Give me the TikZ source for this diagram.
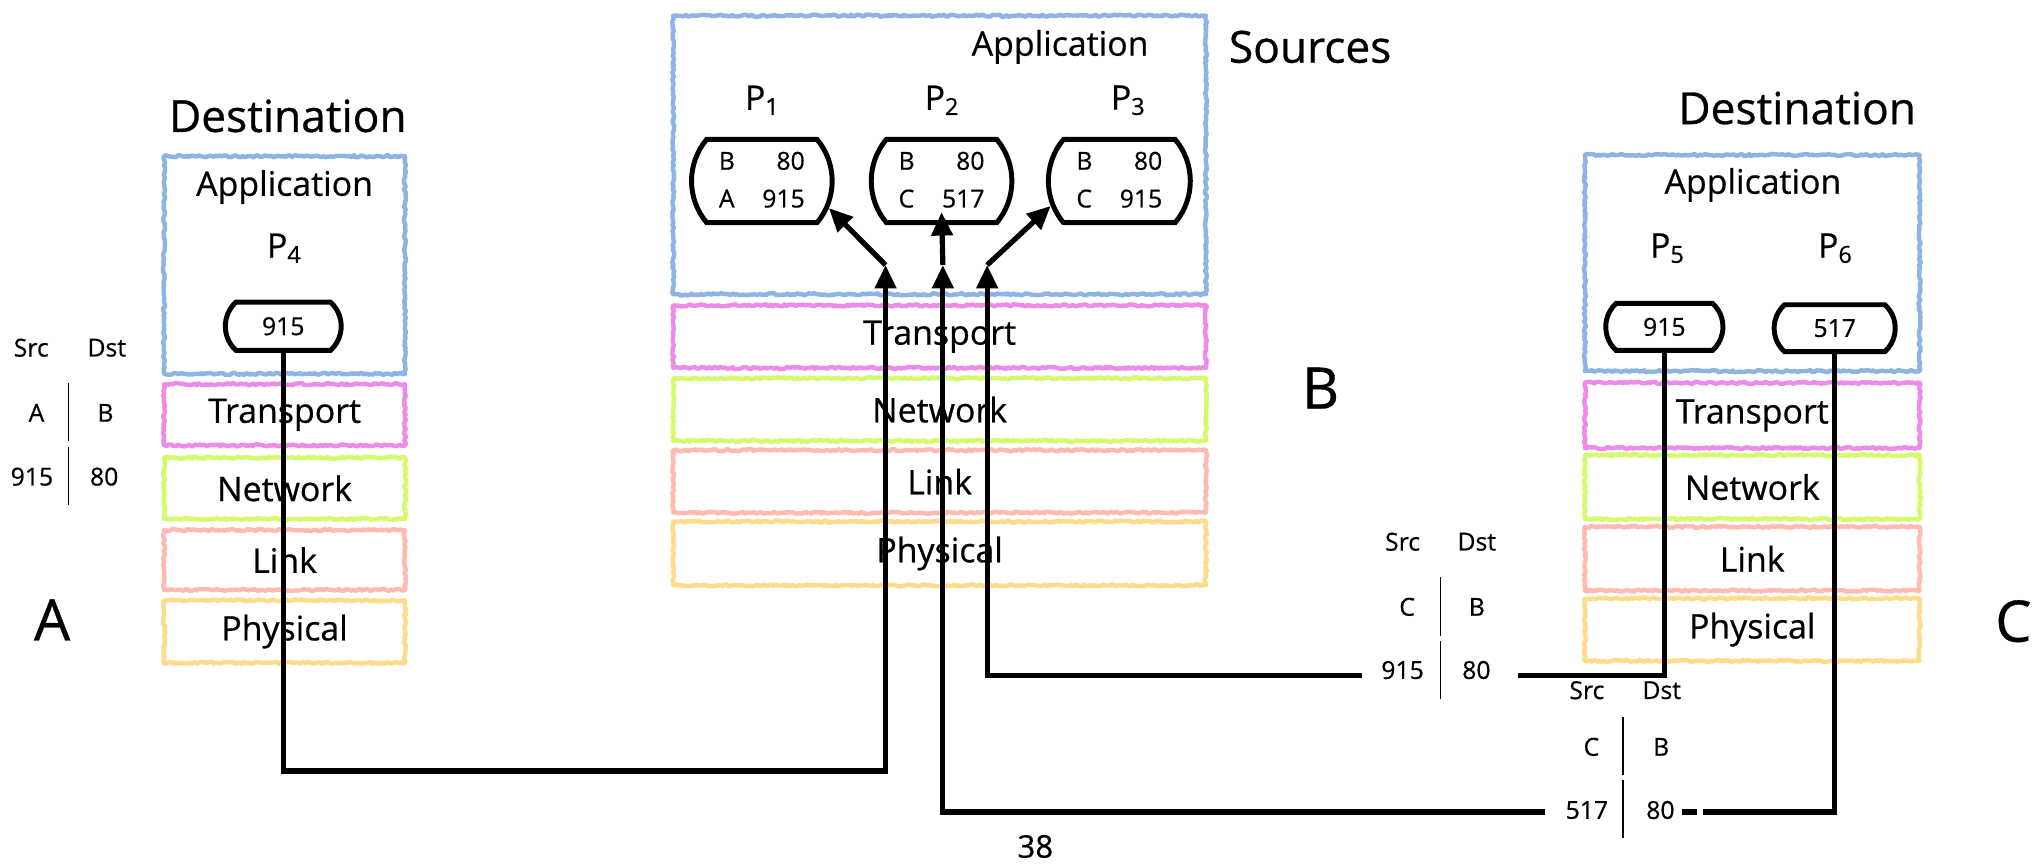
\documentclass[tikz,border=0pt]{standalone}
\usepackage{fontspec}
\setmainfont{Open Sans}[FakeBold=0.6]
\usetikzlibrary{arrows.meta,shapes.misc,decorations.pathmorphing}

\definecolor{appblue}{RGB}{141,180,226}
\definecolor{transpink}{RGB}{236,140,230}
\definecolor{netlime}{RGB}{214,250,110}
\definecolor{linksalmon}{RGB}{255,186,178}
\definecolor{physyellow}{RGB}{255,220,140}

\newcommand{\setfs}[1]{\fontsize{#1}{#1}\selectfont}
\newcommand{\psub}[1]{\raisebox{-4pt}{\setfs{18}#1}}
\newcommand{\portpair}[4]{\fontsize{19}{29}\selectfont\begin{tabular}{@{}l@{\hspace{21pt}}r@{}}#1&#2\\#3&#4\end{tabular}}

\begin{document}
\begin{tikzpicture}[x=1pt,y=-1pt,
  chalk/.style={draw=#1, line width=3.4pt, line join=round, decorate,
    decoration={random steps, segment length=1.8pt, amplitude=0.8pt}},
  layerbox/.style={chalk=#1, rectangle, inner sep=0pt, font=\setfs{26}},
  apptext/.style={inner sep=0pt, font=\setfs{26}},
  plabel/.style={inner sep=0pt, font=\setfs{26}},
  title/.style={inner sep=0pt, font=\setfs{34}},
  hostletter/.style={inner sep=0pt, font=\setfs{44}},
  pill/.style={draw, line width=3.8pt, rounded rectangle,
    rounded rectangle arc length=80, inner sep=0pt},
  smallpill/.style={pill, rounded rectangle arc length=95, font=\setfs{19}},
  tbl/.style={inner sep=0pt, font=\setfs{19}},
  divider/.style={line width=1.3pt},
  wire/.style={line width=4pt},
  tip/.style={-{Triangle[length=18pt,width=16pt]}}
]
\useasboundingbox (0,0) rectangle (1568,664);

% ---------- host A ----------
\node[title] (aTitle) at (221,89) {Destination};
\node[layerbox=appblue, minimum width=185pt, minimum height=167pt] (aApp) at (218.5,203.5) {};
\node[apptext] (aAppL) at (218.5,143.6) {Application};
\node[plabel] (aP4) at (218,190.6) {P\psub{4}};
\node[smallpill, minimum width=89pt, minimum height=37pt] (p4) at (217.5,250.5) {915};
\node[layerbox=transpink, minimum width=185pt, minimum height=47pt] (aTra) at (218.5,318.5) {Transport};
\node[layerbox=netlime, minimum width=185pt, minimum height=47pt] (aNet) at (218.5,375) {Network};
\node[layerbox=linksalmon, minimum width=185pt, minimum height=46pt] (aLnk) at (218.5,430) {Link};
\node[layerbox=physyellow, minimum width=185pt, minimum height=48pt] (aPhy) at (218.5,485) {Physical};
\node[hostletter] (hostA) at (40,476) {A};

% header table next to A
\node[tbl] (aSrc) at (24,267) {Src};
\node[tbl] (aDst) at (82,267) {Dst};
\node[tbl] (aSrcH) at (28,317) {A};
\node[tbl] (aDstH) at (81,317) {B};
\node[tbl] (aSrcP) at (24.5,366) {915};
\node[tbl] (aDstP) at (80,366) {80};
\draw[divider] (52.5,294) -- (52.5,339);
\draw[divider] (52.5,343) -- (52.5,388);

% ---------- host B ----------
\node[title] (bTitle) at (1006,36) {Sources};
\node[layerbox=appblue, minimum width=409pt, minimum height=214pt] (bApp) at (721.5,119) {};
\node[apptext] (bAppL) at (814,36) {Application};
\node[plabel] (bP1) at (585,77) {P\psub{1}};
\node[plabel] (bP2) at (723,77) {P\psub{2}};
\node[plabel] (bP3) at (866,77) {P\psub{3}};
\node[pill, minimum width=108pt, minimum height=64pt] (p1) at (585,139) {\portpair{B}{80}{A}{915}};
\node[pill, minimum width=108pt, minimum height=64pt] (p2) at (723,139) {\portpair{B}{80}{C}{517}};
\node[pill, minimum width=109pt, minimum height=64pt] (p3) at (859.5,139) {\portpair{B}{80}{C}{915}};
\node[layerbox=transpink, minimum width=409pt, minimum height=48pt] (bTra) at (721.5,258.5) {Transport};
\node[layerbox=netlime, minimum width=409pt, minimum height=48pt] (bNet) at (721.5,314.5) {Network};
\node[layerbox=linksalmon, minimum width=409pt, minimum height=48pt] (bLnk) at (721.5,369.7) {Link};
\node[layerbox=physyellow, minimum width=409pt, minimum height=49pt] (bPhy) at (721.5,425) {Physical};
\node[hostletter] (hostB) at (1014,298) {B};

% ---------- host C ----------
\node[title] (cTitle) at (1380,83) {Destination};
\node[layerbox=appblue, minimum width=257pt, minimum height=166pt] (cApp) at (1345.5,202) {};
\node[apptext] (cAppL) at (1346,142) {Application};
\node[plabel] (cP5) at (1280,190.6) {P\psub{5}};
\node[plabel] (cP6) at (1409,190.6) {P\psub{6}};
\node[smallpill, minimum width=90pt, minimum height=36pt] (p5) at (1278,251) {915};
\node[smallpill, minimum width=93pt, minimum height=36pt] (p6) at (1408.8,252) {517};
\node[layerbox=transpink, minimum width=257pt, minimum height=50pt] (cTra) at (1345.5,319) {Transport};
\node[layerbox=netlime, minimum width=257pt, minimum height=49pt] (cNet) at (1345.5,374) {Network};
\node[layerbox=linksalmon, minimum width=257pt, minimum height=49pt] (cLnk) at (1345.5,429) {Link};
\node[layerbox=physyellow, minimum width=257pt, minimum height=48pt] (cPhy) at (1345.5,483.5) {Physical};
\node[hostletter] (hostC) at (1546,477) {C};

% header table on the P5 path
\node[tbl] (c5Src) at (1077,416) {Src};
\node[tbl] (c5Dst) at (1134,416) {Dst};
\node[tbl] (c5SrcH) at (1080.5,466) {C};
\node[tbl] (c5DstH) at (1134,466) {B};
\node[tbl] (c5SrcP) at (1077,514.5) {915};
\node[tbl] (c5DstP) at (1133.7,514.5) {80};
\draw[divider] (1106,443) -- (1106,488);
\draw[divider] (1106,492) -- (1106,537);

% header table on the P6 path
\node[tbl] (c6Src) at (1218.5,530) {Src};
\node[tbl] (c6Dst) at (1276,530) {Dst};
\node[tbl] (c6SrcH) at (1222,573.5) {C};
\node[tbl] (c6DstH) at (1275.6,573.5) {B};
\node[tbl] (c6SrcP) at (1218.5,622) {517};
\node[tbl] (c6DstP) at (1275,622) {80};
\draw[divider] (1246,550.5) -- (1246,595);
\draw[divider] (1246,599) -- (1246,643.5);

\node[inner sep=0pt, font=\setfs{24}] (pageNo) at (795,650) {38};

% ---------- connectors ----------
\coordinate (jA) at (680,203.5);
\coordinate (kA) at (680,592);
\coordinate (jC5) at (758,203.5);
\coordinate (eC5r) at (1166,518.5);
\coordinate (eC5l) at (1046,518.5);
\coordinate (jC6) at (724,203.5);
\coordinate (eC6r) at (1308,623.5);
\coordinate (eC6l) at (1186.5,623.5);
\coordinate (dashL) at (1291.5,623.5);
\coordinate (dashR) at (1303,623.5);

% A:915 -> B (P1)
\draw[wire,tip] (p4.south) |- (kA) -- (jA);
\draw[wire,tip] (jA) -- (p1.-22);
% C:915 -> B (P3)
\draw[wire] (p5.south) |- (eC5r);
\draw[wire,tip] (eC5l) -| (jC5);
\draw[wire,tip] (jC5) -- (p3.200);
% C:517 -> B (P2)
\draw[wire] (p6.south) |- (eC6r);
\draw[wire] (dashL) -- (dashR);
\draw[wire,tip] (eC6l) -| (jC6);
\draw[wire,tip] (jC6) -- ([yshift=10pt]p2.south);
\end{tikzpicture}
\end{document}
